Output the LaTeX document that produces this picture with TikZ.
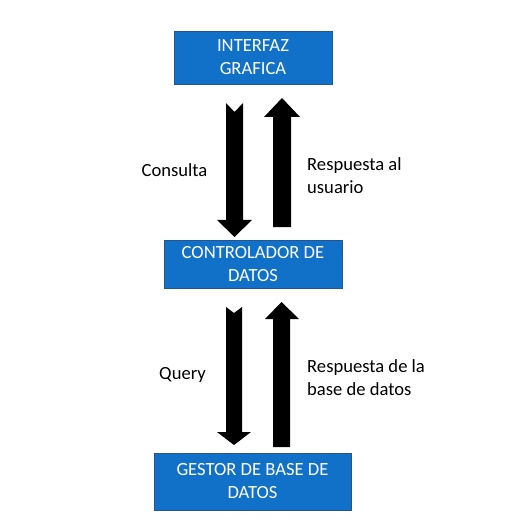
\documentclass[tikz,border=0pt]{standalone}
\usepackage{fontspec}
\setmainfont{Carlito}
\definecolor{azul}{RGB}{17,112,199}
\definecolor{borde}{RGB}{35,85,145}

\begin{document}
\begin{tikzpicture}[x=1pt, y=-1pt]
        \tikzstyle{every node}=[font=\fontsize{18.6}{23}\selectfont]
        \tikzstyle{caja}=[draw=borde, fill=azul, text=white, align=center, inner sep=0pt]
        \tikzstyle{etiqueta}=[align=left, inner sep=0pt]
        \useasboundingbox (0,0) rectangle (508,526);
        % cajas
        \node [caja, minimum width=158pt, minimum height=53pt] (interfaz) at (253,57.5) {INTERFAZ\\GRAFICA};
        \node [caja, minimum width=178pt, minimum height=48pt] (controlador) at (253,264) {CONTROLADOR DE\\DATOS};
        \node [caja, minimum width=197pt, minimum height=57pt] (gestor) at (252.5,481.5) {GESTOR DE BASE DE\\DATOS};
        % flechas
        \fill (226,103) -- (234.5,112) -- (243,103) -- (243,220) -- (252,220) -- (234.5,237) -- (217,220) -- (226,220) -- cycle;
        \fill (273,227) -- (273,117) -- (264,117) -- (282,98) -- (300,117) -- (291,117) -- (291,227) -- cycle;
        \fill (226,307) -- (234,313) -- (242,307) -- (242,432) -- (251,432) -- (234,445) -- (217,432) -- (226,432) -- cycle;
        \fill (273,447) -- (273,319) -- (265,319) -- (281.5,302) -- (299,319) -- (290,319) -- (290,447) -- cycle;
        % textos
        \node [etiqueta] (consulta) at (174.5,170) {Consulta};
        \node [etiqueta, anchor=west] (respuesta) at (307,175.5) {Respuesta al\\usuario};
        \node [etiqueta] (query) at (182.5,375) {Query};
        \node [etiqueta, anchor=west] (respuestabd) at (307,377.5) {Respuesta de la\\base de datos};
\end{tikzpicture}
\end{document}
